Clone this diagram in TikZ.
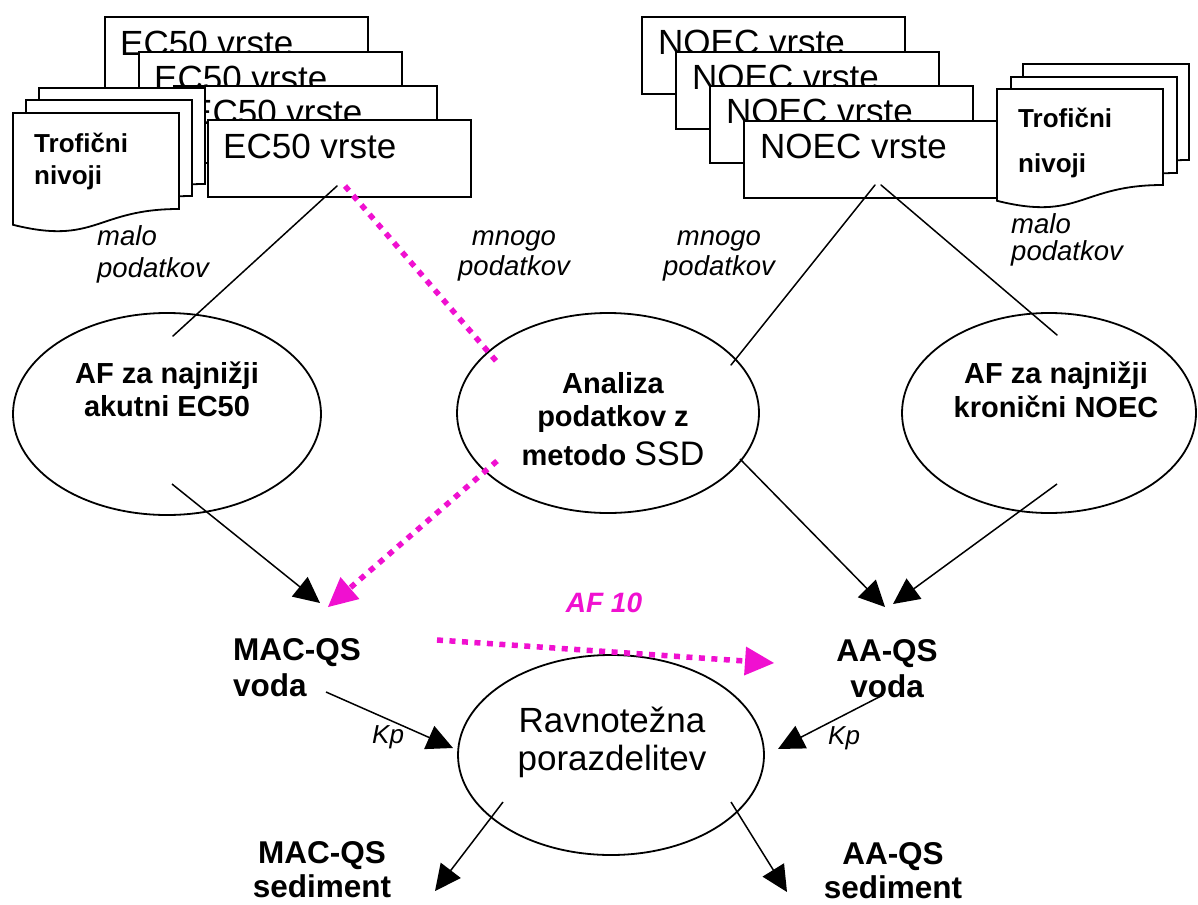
\documentclass[tikz,border=0pt]{standalone}
\usepackage{fontspec}
\setmainfont{Liberation Sans}
\usetikzlibrary{arrows.meta,shapes.geometric}
\definecolor{pinkc}{RGB}{240,16,208}
\newcommand\mydocpage[3]{%
  \begin{scope}[shift={(#1,#2)}]
    \draw[pg] (0,0) -- (166,0) -- (166,96) .. controls (83,96) and (83,132.6) .. (0,111.8) -- cycle;
    \coordinate (#3) at (0,0);
  \end{scope}}
\begin{document}
\begin{tikzpicture}[x=1pt,y=-1pt,
  box/.style={draw,line width=1.8pt,fill=white,minimum width=263pt,minimum height=77pt,inner sep=0pt,anchor=north west},
  boxtxt/.style={font=\fontsize{35}{40}\selectfont,anchor=base west,inner sep=0pt},
  pg/.style={draw,line width=1.8pt,fill=white,line join=miter},
  troftxt/.style={font=\fontsize{26}{30}\selectfont\bfseries,anchor=base west,inner sep=0pt},
  oval/.style={draw,ellipse,line width=1.8pt,inner sep=0pt,minimum height=200pt},
  boldtxt/.style={font=\fontsize{29}{33}\selectfont\bfseries,anchor=base,inner sep=0pt},
  regtxt/.style={font=\fontsize{35}{40}\selectfont,anchor=base,inner sep=0pt},
  qstxt/.style={font=\fontsize{31.5}{36}\selectfont\bfseries,anchor=base,inner sep=0pt},
  ittxt/.style={font=\fontsize{27.5}{32}\selectfont\itshape,anchor=base,inner sep=0pt},
  kptxt/.style={font=\fontsize{26}{30}\selectfont\itshape,anchor=base west,inner sep=0pt},
  conn/.style={line width=1.5pt,line cap=round},
  arr/.style={line width=1.5pt,-{Triangle[length=26pt,width=25pt]}},
  pinkdot/.style={draw=pinkc,line width=5.5pt,dash pattern=on 6pt off 6.5pt},
  pinkarr/.style={pinkdot,-{Triangle[length=29pt,width=29pt,line width=0pt]}},
]
\fill[white] (0,0) rectangle (1198,904);
\useasboundingbox (0,0) rectangle (1198,904);

% ---------- EC50 stack ----------
\node[box] (e1) at (104,16) {};
\node[boxtxt] (e1t) at (120,56) {EC50 vrste};
\node[box] (e2) at (138,51) {};
\node[boxtxt] (e2t) at (154,91) {EC50 vrste};
\node[box] (e3) at (173,85) {};
\node[boxtxt] (e3t) at (189,125) {EC50 vrste};
\node[box] (e4) at (207,119) {};
\node[boxtxt] (e4t) at (223,159) {EC50 vrste};

% left trophic pages
\mydocpage{39}{88}{tl1}
\mydocpage{26}{100}{tl2}
\mydocpage{13}{113}{tl3}
\node[troftxt] (tla) at (34,153) {Trofični};
\node[troftxt] (tlb) at (34,185) {nivoji};

% ---------- NOEC stack ----------
\node[box] (n1) at (641,16) {};
\node[boxtxt] (n1t) at (658,55) {NOEC vrste};
\node[box] (n2) at (675,51) {};
\node[boxtxt] (n2t) at (692,90) {NOEC vrste};
\node[box] (n3) at (709,85) {};
\node[boxtxt] (n3t) at (726,124) {NOEC vrste};
\node[box] (n4) at (743,120) {};
\node[boxtxt] (n4t) at (760,159) {NOEC vrste};

% right trophic pages
\mydocpage{1023}{64}{tr1}
\mydocpage{1011}{77}{tr2}
\mydocpage{997}{89}{tr3}
\node[troftxt] (tra) at (1018,128) {Trofični};
\node[troftxt] (trb) at (1018,173) {nivoji};

% ---------- labels near top ----------
\node[ittxt,anchor=base west] (ml1) at (97,245) {malo};
\node[ittxt,anchor=base west] (ml2) at (97,277) {podatkov};
\node[ittxt] (mg1) at (514,245) {mnogo};
\node[ittxt] (mg2) at (514,275) {podatkov};
\node[ittxt] (mg3) at (719,245) {mnogo};
\node[ittxt] (mg4) at (719,275) {podatkov};
\node[ittxt,anchor=base west] (mr1) at (1011,233) {malo};
\node[ittxt,anchor=base west] (mr2) at (1011,260) {podatkov};

% ---------- ellipses ----------
\node[oval,minimum width=308pt,minimum height=202pt] (o1) at (167,414) {};
\node[boldtxt] (o1a) at (167,383) {AF za najnižji};
\node[boldtxt] (o1b) at (167,416) {akutni EC50};

\node[oval,minimum width=302pt] (o2) at (608,413) {};
\node[boldtxt] (o2a) at (613,393) {Analiza};
\node[boldtxt] (o2b) at (613,426) {podatkov z};
\node[boldtxt] (o2c) at (613,465) {metodo {\mdseries\fontsize{34}{38}\selectfont SSD}};

\node[oval,minimum width=294pt] (o3) at (1049,413) {};
\node[boldtxt] (o3a) at (1056,383) {AF za najnižji};
\node[boldtxt] (o3b) at (1056,417) {kronični NOEC};

\node[oval,minimum width=306pt] (o4) at (611,755) {};
\node[regtxt] (o4a) at (612,732) {Ravnotežna};
\node[regtxt] (o4b) at (612,770) {porazdelitev};

% ---------- QS labels ----------
\node[qstxt,anchor=base west] (mac1) at (233,660) {MAC-QS};
\node[qstxt,anchor=base west] (mac2) at (233,696) {voda};
\node[qstxt] (aa1) at (887,661) {AA-QS};
\node[qstxt] (aa2) at (887,697) {voda};
\node[qstxt] (ms1) at (322,863) {MAC-QS};
\node[qstxt] (ms2) at (322,897) {sediment};
\node[qstxt] (as1) at (893,864) {AA-QS};
\node[qstxt] (as2) at (893,898) {sediment};
\node[kptxt] (kp1) at (372,743) {Kp};
\node[kptxt] (kp2) at (828,744) {Kp};
\node[font=\fontsize{28}{32}\selectfont\bfseries\itshape,text=pinkc,anchor=base,inner sep=0pt] (af10) at (604,612) {AF 10};

% ---------- connector end points ----------
\coordinate (c1a) at (337,186); \coordinate (c1b) at (173,336);
\coordinate (p1a) at (345,186); \coordinate (p1b) at (497,362);
\coordinate (p2a) at (497,461); \coordinate (p2b) at (328,607);
\coordinate (a1a) at (172,484); \coordinate (a1b) at (320,603);
\coordinate (c2a) at (875,185); \coordinate (c2b) at (731,365);
\coordinate (c3a) at (881,185); \coordinate (c3b) at (1057,335);
\coordinate (a2a) at (740,459); \coordinate (a2b) at (885,607);
\coordinate (a3a) at (1057,484); \coordinate (a3b) at (893,604);
\coordinate (p3a) at (437,640); \coordinate (p3b) at (774,663);
\coordinate (a4a) at (326,692); \coordinate (a4b) at (453,748);
\coordinate (a5a) at (883,695); \coordinate (a5b) at (778,749);
\coordinate (a6a) at (503,802); \coordinate (a6b) at (435,891);
\coordinate (a7a) at (731,802); \coordinate (a7b) at (787,892);

% ---------- connectors ----------
\draw[conn] (c1a) -- (c1b);
\draw[conn] (c2a) -- (c2b);
\draw[conn] (c3a) -- (c3b);
\draw[arr] (a1a) -- (a1b);
\draw[arr] (a2a) -- (a2b);
\draw[arr] (a3a) -- (a3b);
\draw[arr] (a4a) -- (a4b);
\draw[arr] (a5a) -- (a5b);
\draw[arr] (a6a) -- (a6b);
\draw[arr] (a7a) -- (a7b);
\draw[pinkdot] (p1a) -- (p1b);
\draw[pinkarr] (p2a) -- (p2b);
\draw[pinkarr] (p3a) -- (p3b);
\end{tikzpicture}
\end{document}
